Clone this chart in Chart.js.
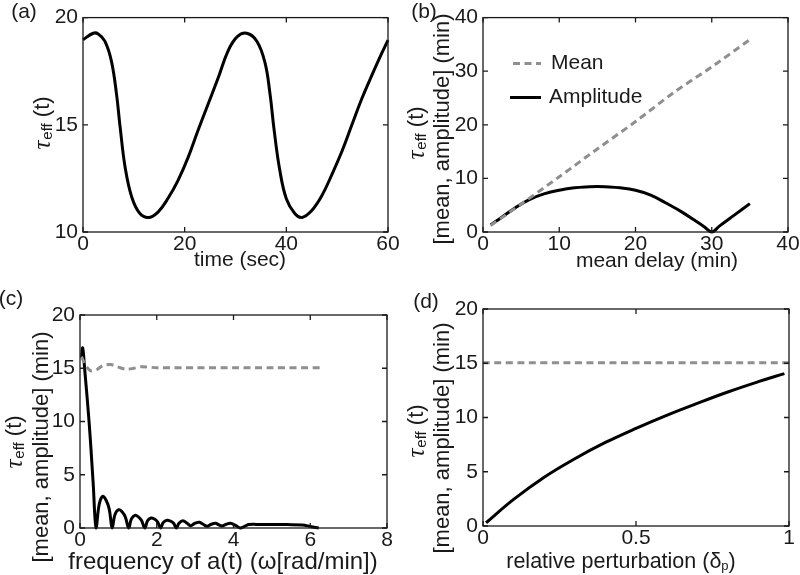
<!DOCTYPE html>
<html>
<head>
<meta charset="utf-8">
<script src="https://cdn.jsdelivr.net/npm/chart.js@4.4.1/dist/chart.umd.min.js"></script>
<style>
  body { margin: 0; background: #fff; }
  #wrap { position: relative; width: 800px; height: 575px; }
  canvas { position: absolute; }
</style>
</head>
<body>
<div id="wrap">
  <canvas id="pa" width="400" height="290" style="left:0;top:0"></canvas>
  <canvas id="pb" width="400" height="290" style="left:400px;top:0"></canvas>
  <canvas id="pc" width="400" height="285" style="left:0;top:290px"></canvas>
  <canvas id="pd" width="400" height="285" style="left:400px;top:290px"></canvas>
</div>
<script>
// ── (a) tau_eff over time ───────────────────────────────────────────
const aTime = [0, 2, 3, 4.3, 5.6, 6.6, 7.3, 8.3, 9.6, 11.2, 13, 14.8, 16.7, 18.7, 20.7, 22.6, 24.6, 26.6, 28.5,
  30.3, 32.2, 34.2, 35.8, 36.8, 37.6, 38.7, 40, 41.7, 43.1, 45, 47, 49, 51, 52.9, 54.9, 56.9, 58.8, 60];
const aTau = [18.97, 19.27, 19.24, 18.9, 17.96, 16.42, 14.9, 13.0, 11.62, 10.86, 10.68, 10.94, 11.56, 12.41, 13.49,
  14.72, 15.96, 17.19, 18.43, 19.1, 19.27, 18.9, 17.9, 16.42, 14.75, 12.9, 11.55, 10.85, 10.68, 11.0, 11.7, 12.7,
  13.8, 15.0, 16.25, 17.35, 18.35, 18.95];

// ── (b) vs mean delay ───────────────────────────────────────────────
const bMeanX = [1, 5, 10, 15, 20, 25, 30, 35];
const bMean = [1.2, 5.2, 10.3, 15.5, 20.6, 26.0, 30.8, 35.9];
const bAmpX = [1, 2, 4, 6, 8, 10, 12, 14, 15, 16, 18, 20, 22, 24, 26, 28, 29, 30, 31, 33, 35];
const bAmp = [1.3, 2.3, 4.3, 6.0, 7.1, 7.8, 8.25, 8.45, 8.5, 8.45, 8.25, 7.8, 6.9, 5.4, 3.8, 1.95, 1.0, 0, 1.1, 3.2, 5.3];

// ── (c) vs frequency of a(t) ───────────────────────────────────────
const cMeanX = [0.04, 0.1, 0.2, 0.3, 0.45, 0.6, 0.8, 1.0, 1.2, 1.4, 1.6, 2.0, 3, 4, 5, 6.3];
const cMean = [16.1, 15.6, 15.0, 14.75, 14.9, 15.25, 15.35, 15.1, 14.9, 15.0, 15.15, 15.05, 15.05, 15.05, 15.05, 15.05];
const cAmpX = [0.04, 0.07, 0.12, 0.24, 0.34, 0.42,
  0.50, 0.59, 0.68, 0.76, 0.84,
  0.91, 1.01, 1.10, 1.18, 1.27,
  1.34, 1.43, 1.52, 1.60, 1.69,
  1.76, 1.85, 1.94, 2.02, 2.10,
  2.17, 2.27, 2.36, 2.44, 2.51,
  2.58, 2.68, 2.79, 2.88, 3.0, 3.11, 3.21, 3.31, 3.42, 3.53, 3.62, 3.70, 3.81, 3.92, 4.05, 4.18,
  4.30, 4.40, 4.60, 5.0, 5.4, 5.79, 6.0, 6.22];
const cAmp = [16.0, 16.9, 15.0, 9.8, 4.4, 0,
  2.2, 2.97, 2.6, 1.8, 0,
  1.25, 1.72, 1.5, 1.05, 0,
  0.85, 1.19, 1.05, 0.72, 0,
  0.68, 0.94, 0.84, 0.58, 0,
  0.52, 0.72, 0.64, 0.44, 0,
  0.45, 0.69, 0.45, 0.22, 0.45, 0.53, 0.35, 0.16, 0.35, 0.44, 0.3, 0.19, 0.35, 0.44, 0.25, 0,
  0.18, 0.32, 0.34, 0.33, 0.32, 0.28, 0.15, 0];

// ── (d) vs relative perturbation ───────────────────────────────────
const dMeanX = [0, 1];
const dMean = [15.05, 15.05];
const dAmpX = [0.01, 0.1, 0.2, 0.3, 0.4, 0.5, 0.6, 0.7, 0.8, 0.9, 0.985];
const dAmp = [0.3, 2.45, 4.5, 6.2, 7.7, 9.0, 10.2, 11.3, 12.35, 13.3, 14.05];

const SANS = '"Liberation Sans", Arial, Helvetica, sans-serif';
const INK = '#1a1a1a';
const GREY = '#8f8f8f';

const pts = (xs, ys) => xs.map((x, i) => ({ x, y: ys[i] }));
const solid = (data) => ({ data, borderColor: '#000', borderWidth: 3, tension: 0.4, clip: false,
  borderJoinStyle: 'round', pointRadius: 0 });
const dashed = (data) => ({ data, borderColor: GREY, borderWidth: 3, tension: 0.3, clip: false,
  borderDash: [7, 4.5], pointRadius: 0 });

// text made of runs (for the tau_eff subscript)
function drawRuns(ctx, t) {
  ctx.save();
  ctx.translate(t.x, t.y);
  if (t.rot) ctx.rotate(-Math.PI / 2);
  ctx.textBaseline = 'middle';
  ctx.textAlign = 'left';
  let w = 0;
  t.runs.forEach(r => { ctx.font = r.f; r.w = ctx.measureText(r.s).width + (r.gap || 0); w += r.w; });
  let x = t.align === 'left' ? 0 : -w / 2;
  t.runs.forEach(r => { ctx.font = r.f; ctx.fillText(r.s, x, r.dy || 0); x += r.w; });
  ctx.restore();
}
const txt = (s, x, y, size, extra) => Object.assign({ x, y, runs: [{ s, f: size + 'px ' + SANS }] }, extra);
const tauLabel = (x, y) => ({ x, y, rot: true, runs: [
  { s: 'τ', f: 'italic 25px "Liberation Serif", serif', gap: 1 },
  { s: 'eff', f: '15px ' + SANS, dy: 5 },
  { s: ' (t)', f: '22px ' + SANS }
] });

const framePlugin = {
  id: 'frame',
  afterDraw(chart, args, opts) {
    const ctx = chart.ctx, a = chart.chartArea, sx = chart.scales.x, sy = chart.scales.y;
    ctx.save();
    ctx.strokeStyle = INK;
    ctx.lineWidth = 1.3;
    ctx.strokeRect(a.left, a.top, a.right - a.left, a.bottom - a.top);
    const tl = 5;
    ctx.beginPath();
    sx.ticks.forEach(t => {
      const px = sx.getPixelForValue(t.value);
      ctx.moveTo(px, a.bottom); ctx.lineTo(px, a.bottom - tl);
      ctx.moveTo(px, a.top); ctx.lineTo(px, a.top + tl);
    });
    sy.ticks.forEach(t => {
      const py = sy.getPixelForValue(t.value);
      ctx.moveTo(a.left, py); ctx.lineTo(a.left + tl, py);
      ctx.moveTo(a.right, py); ctx.lineTo(a.right - tl, py);
    });
    ctx.stroke();

    (opts.legend || []).forEach(l => {
      ctx.beginPath();
      ctx.lineWidth = 3;
      ctx.strokeStyle = l.color;
      ctx.setLineDash(l.dash || []);
      ctx.moveTo(l.x0, l.y); ctx.lineTo(l.x1, l.y);
      ctx.stroke();
      ctx.setLineDash([]);
    });

    ctx.fillStyle = INK;
    (opts.texts || []).forEach(t => drawRuns(ctx, t));
    ctx.restore();
  }
};

function panel(id, cfg) {
  const tickStyle = { color: INK, font: { family: SANS, size: 21 }, autoSkip: false, maxRotation: 0,
    callback: v => String(v) };
  return new Chart(document.getElementById(id), {
    type: 'line',
    data: { datasets: cfg.datasets },
    options: {
      responsive: false, animation: false, devicePixelRatio: 1,
      layout: { padding: { left: 0, top: cfg.box[1], right: cfg.box[2], bottom: 0 } },
      plugins: { legend: { display: false }, tooltip: { enabled: false }, frame: { texts: cfg.texts, legend: cfg.legend } },
      scales: {
        x: { type: 'linear', min: cfg.x[0], max: cfg.x[1],
          ticks: Object.assign({ stepSize: cfg.x[2], padding: 0 }, tickStyle),
          grid: { display: false, drawTicks: false }, border: { display: false },
          afterFit: s => { s.height = cfg.box[3]; } },
        y: { type: 'linear', min: cfg.y[0], max: cfg.y[1],
          ticks: Object.assign({ stepSize: cfg.y[2], padding: 5 }, tickStyle),
          grid: { display: false, drawTicks: false }, border: { display: false },
          afterFit: s => { s.width = cfg.box[0]; } }
      }
    },
    plugins: [framePlugin]
  });
}

const meanLine = () => ({ s: '[mean, amplitude] (min)', f: '22px ' + SANS });

// box = [left, top, right margin, bottom margin]
panel('pa', {
  box: [83, 16, 12, 58], x: [0, 60, 20], y: [10, 20, 5],
  datasets: [solid(pts(aTime, aTau))],
  texts: [txt('(a)', 24, 12, 21), tauLabel(43, 123), txt('time (sec)', 240, 260, 21)]
});

panel('pb', {
  box: [83, 16, 12, 58], x: [0, 40, 10], y: [0, 40, 10],
  datasets: [dashed(pts(bMeanX, bMean)), solid(pts(bAmpX, bAmp))],
  legend: [{ x0: 113, x1: 141, y: 63.5, color: GREY, dash: [7, 4.5] }, { x0: 110, x1: 141, y: 97.5, color: '#000' }],
  texts: [txt('(b)', 24, 12, 21), tauLabel(17, 133),
    { x: 43, y: 129, rot: true, runs: [meanLine()] },
    txt('mean delay (min)', 257, 261, 21),
    txt('Mean', 151, 63, 21, { align: 'left' }), txt('Amplitude', 149, 97, 21, { align: 'left' })]
});

panel('pc', {
  box: [80, 25, 13, 47], x: [0, 8, 2], y: [0, 20, 5],
  datasets: [dashed(pts(cMeanX, cMean)), solid(pts(cAmpX, cAmp))],
  texts: [txt('(c)', 11, 9, 21), tauLabel(15, 152),
    { x: 42, y: 157, rot: true, runs: [meanLine()] },
    txt('frequency of a(t) (ω[rad/min])', 223, 272, 24)]
});

panel('pd', {
  box: [83, 19, 11, 49], x: [0, 1, 0.5], y: [0, 20, 5],
  datasets: [dashed(pts(dMeanX, dMean)), solid(pts(dAmpX, dAmp))],
  texts: [txt('(d)', 26, 12, 21), tauLabel(17, 141),
    { x: 43, y: 148, rot: true, runs: [meanLine()] },
    { x: 221, y: 272, runs: [
      { s: 'relative perturbation (δ', f: '21.5px ' + SANS },
      { s: 'p', f: '13px ' + SANS, dy: 4 },
      { s: ')', f: '21.5px ' + SANS }] }]
});
</script>
</body>
</html>
